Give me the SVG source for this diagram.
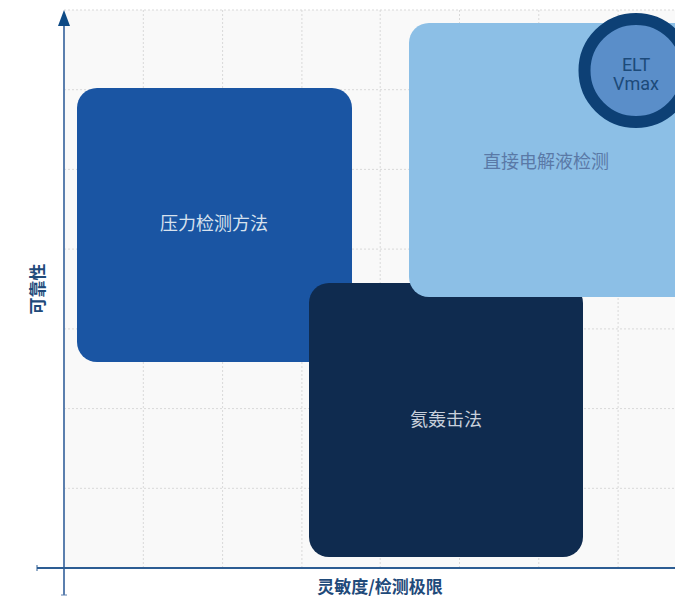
<svg xmlns="http://www.w3.org/2000/svg" width="675" height="598" viewBox="0 0 675 598">
<style>
.grid{stroke:#d9d9d9;stroke-width:1;stroke-dasharray:2 2;fill:none}
.lbl{font-family:"Noto Sans CJK SC","Noto Sans",sans-serif;font-size:18px;text-anchor:middle;dominant-baseline:central}
.axis-lbl{font-family:"Noto Sans CJK SC","Noto Sans",sans-serif;font-size:17px;font-weight:bold;fill:#1f4a7a;text-anchor:middle;dominant-baseline:central}
</style>
<rect x="0" y="0" width="675" height="598" fill="#ffffff"/>
<rect x="64" y="10" width="611" height="558" fill="#f9f9f9"/>
<g id="grid">
<path class="grid" d="M64,10H675 M64,89.7H675 M64,169.4H675 M64,249.1H675 M64,328.9H675 M64,408.6H675 M64,488.3H675"/>
<path class="grid" d="M143.3,10V568 M222.6,10V568 M301.9,10V568 M380.2,10V568 M459.5,10V568 M538.8,10V568 M618.1,10V568"/>
</g>
<g id="axes">
<line x1="64" y1="595" x2="64" y2="26" stroke="#5b7fae" stroke-width="2"/>
<path d="M58,26 L64,10 L70,26 Z" fill="#0d4a85"/>
<line x1="61" y1="595" x2="67" y2="595" stroke="#5b7fae" stroke-width="1"/>
<line x1="37" y1="568" x2="675" y2="568" stroke="#2d5d93" stroke-width="2"/>
<line x1="37" y1="565" x2="37" y2="571" stroke="#2d5d93" stroke-width="1"/>
</g>
<g id="node-pressure">
<rect x="77" y="88" width="275" height="274" rx="20" fill="#1a55a3"/>
<text class="lbl" x="214" y="222" fill="#d8e2ee">压力检测方法</text>
</g>
<g id="node-helium">
<rect x="309" y="283" width="274" height="274" rx="20" fill="#0f2b4f"/>
<text class="lbl" x="446" y="418" fill="#c8d0dc">氦轰击法</text>
</g>
<g id="node-electrolyte">
<rect x="409" y="23" width="290" height="274" rx="20" fill="#8cbfe6"/>
<text class="lbl" x="546" y="160" fill="#5a79a6">直接电解液检测</text>
</g>
<g id="node-elt">
<circle cx="636" cy="70.5" r="51.5" fill="#5a8ec9" stroke="#0d4075" stroke-width="12"/>
<text x="636" y="71" font-family="Roboto,'Noto Sans',sans-serif" font-size="18" fill="#1c4a7a" text-anchor="middle">ELT</text>
<text x="636" y="90" font-family="Roboto,'Noto Sans',sans-serif" font-size="18" fill="#1c4a7a" text-anchor="middle">Vmax</text>
</g>
<g id="labels">
<text class="axis-lbl" x="380" y="585">灵敏度/检测极限</text>
<text class="axis-lbl" transform="translate(36,289) rotate(-90)">可靠性</text>
</g>
</svg>
